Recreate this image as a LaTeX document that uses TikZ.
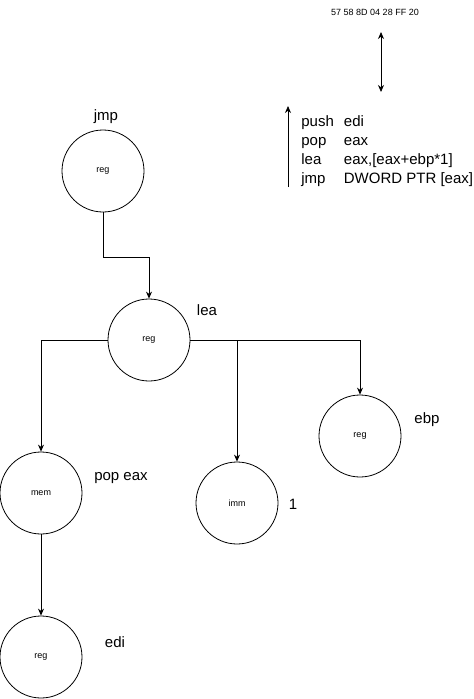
\documentclass[tikz,border=0pt]{standalone}
\usepackage{fontspec}
\setmainfont{Liberation Sans}
\usetikzlibrary{arrows.meta}

\begin{document}
\begin{tikzpicture}[
        x = 1pt, y = -1pt,
        line width = 0.8pt,
        >={Stealth[length=7pt, width=6pt]},
        operand/.style = {
            draw, circle,
            align=center,
            minimum size = 82pt,
            inner sep = 0pt,
            font = \fontsize{9}{11}\selectfont,
        },
        mnemonic/.style = {
            font = \fontsize{15}{19}\selectfont,
        },
        ]
        \useasboundingbox (0,0) rectangle (474,699);

        % Operanden
        \node[operand] (jmp_reg) at (103,171) {reg};
        \node[operand] (lea_reg) at (149,340) {reg};
        \node[operand] (pop_mem) at (41,493) {mem};
        \node[operand] (lea_imm) at (237,503) {imm};
        \node[operand] (lea_ebp) at (360,436) {reg};
        \node[operand] (push_reg) at (41,657) {reg};

        % Namen
        \node[mnemonic] (jmp_label) at (106,117) {jmp};
        \node[mnemonic] (lea_label) at (207,310) {lea};
        \node[mnemonic] (pop_label) at (121,478) {pop eax};
        \node[mnemonic] (imm_label) at (293,504) {1};
        \node[mnemonic] (ebp_label) at (427,420) {ebp};
        \node[mnemonic] (edi_label) at (115,642) {edi};

        % Bytes en code
        \node[font=\fontsize{9}{11}\selectfont] (bytes) at (375,12) {57 58 8D 04 28 FF 20};
        \node[mnemonic, anchor=north west, inner sep=0pt] (asm_code) at (301,113) {%
            \begin{tabular}{@{}l@{\hspace{10pt}}l@{}}
                push & edi\\
                pop  & eax\\
                lea  & eax,[eax+ebp*1]\\
                jmp  & DWORD PTR [eax]
            \end{tabular}};

        % Pijlen
        \coordinate (swap_top) at (381,32);
        \coordinate (swap_bottom) at (381,92);
        \coordinate (order_bottom) at (288,187);
        \coordinate (order_top) at (288,106);
        \draw[<->] (swap_top) -- (swap_bottom);
        \draw[->] (order_bottom) -- (order_top);

        \draw[->] (jmp_reg.south) -- ++(0,45) -| (lea_reg.north);
        \draw[->] (lea_reg.west) -| (pop_mem.north);
        \draw[->] (lea_reg.east) -| (lea_imm.north);
        \draw[->] (lea_reg.east) -| (lea_ebp.north);
        \draw[->] (pop_mem.south) -- (push_reg.north);
\end{tikzpicture}
\end{document}
